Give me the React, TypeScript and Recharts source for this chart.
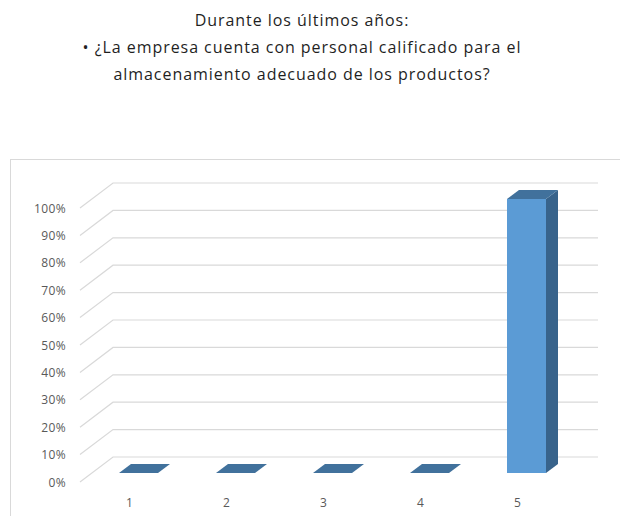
import React from "react";
import { BarChart, Bar, XAxis, YAxis, CartesianGrid } from "recharts";

const categories = ["1", "2", "3", "4", "5"];
const values = [0, 0, 0, 0, 1];
const yTicks = [0, 0.1, 0.2, 0.3, 0.4, 0.5, 0.6, 0.7, 0.8, 0.9, 1];
const titleLines = [
  "Durante los últimos años:",
  "• ¿La empresa cuenta con personal calificado para el",
  "almacenamiento adecuado de los productos?",
];

const data = categories.map((c, i) => ({ name: c, value: values[i] }));

const FONT = "'Open Sans', 'DejaVu Sans', sans-serif";
const GRID = "#d9d9d9";
const DX = 12;
const DY = 9;

function Bar3D(props: any) {
  const { x, y, width, height } = props;
  if (x == null || y == null) return null;
  const h = Math.max(0, height || 0);
  const top = `M${x},${y} L${x + DX},${y - DY} L${x + width + DX},${y - DY} L${x + width},${y} Z`;
  const side = `M${x + width},${y} L${x + width + DX},${y - DY} L${x + width + DX},${y + h - DY} L${x + width},${y + h} Z`;
  return (
    <g>
      {h > 0 && <rect x={x} y={y} width={width} height={h} fill="#5b9bd5" />}
      {h > 0 && <path d={side} fill="#38638b" />}
      <path d={top} fill="#41719c" />
    </g>
  );
}

function gridLine(p: any) {
  const { x1, x2, y1 } = p;
  return (
    <path
      key={p.key ?? y1}
      d={`M${x1 - 10},${y1 + 9} L${x1 + 23},${y1 - 16} L${x2 + 23},${y1 - 16}`}
      stroke={GRID}
      strokeWidth={1.2}
      fill="none"
    />
  );
}

function YTick(props: any) {
  const { y, payload } = props;
  return (
    <text x={66} y={y + 9} textAnchor="end" dominantBaseline="central" fontSize={12} letterSpacing={0.4} fill="#595959" fontFamily={FONT}>
      {Math.round(payload.value * 100)}%
    </text>
  );
}

function XTick(props: any) {
  const { x, payload } = props;
  return (
    <text x={x - 9} y={502} textAnchor="middle" dominantBaseline="central" fontSize={12} fill="#595959" fontFamily={FONT}>
      {payload.value}
    </text>
  );
}

export default function App() {
  return (
    <div style={{ position: "fixed", left: 0, top: 0, width: 620, height: 516, overflow: "hidden", background: "#fff" }}>
      <div style={{ position: "absolute", left: 0, top: 7, width: 604, textAlign: "center", fontFamily: FONT, fontSize: 16, letterSpacing: "0.95px", lineHeight: "27px", color: "#1f1f1f" }}>
        {titleLines.map((t) => (
          <div key={t} style={{ whiteSpace: "nowrap" }}>{t}</div>
        ))}
      </div>
      <div style={{ position: "absolute", left: 10, top: 159, width: 640, height: 400, border: `1px solid ${GRID}` }} />
      <div style={{ position: "absolute", left: 0, top: 0 }}>
        <BarChart width={620} height={516} data={data} margin={{ top: 199, left: 30, right: 45, bottom: 13 }}>
          <CartesianGrid vertical={false} horizontal={gridLine} />
          <XAxis dataKey="name" axisLine={false} tickLine={false} tick={<XTick />} height={30} />
          <YAxis domain={[0, 1]} ticks={yTicks} interval={0} axisLine={false} tickLine={false} tick={<YTick />} width={60} />
          <Bar dataKey="value" barSize={39} shape={<Bar3D />} isAnimationActive={false} />
        </BarChart>
      </div>
    </div>
  );
}
